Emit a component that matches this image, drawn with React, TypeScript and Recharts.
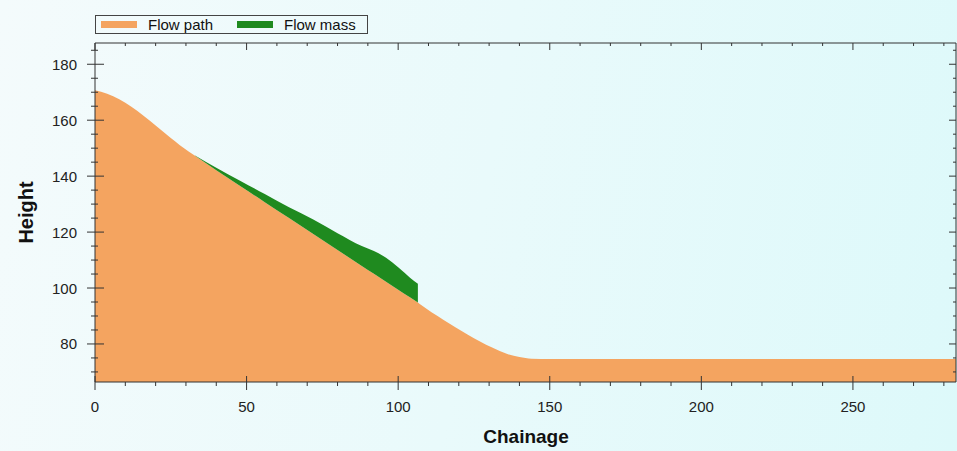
import React from "react";
import { ComposedChart, Area, XAxis, YAxis, ReferenceLine } from "recharts";

// profile and flow mass
const chainage = [
  0, 4, 8, 12, 16, 20, 25, 31, 33, 40, 48, 56, 64, 72, 80, 88, 92, 96, 100, 104,
  106.5, 107, 115, 123, 131, 136, 140, 144, 150, 284,
];
const groundHeight = [
  170.7, 169.5, 167.5, 164.8, 161.6, 158.1, 153.6, 148.7, 147.3, 142.1, 136.4,
  130.7, 125.0, 119.3, 113.6, 107.9, 105.1, 102.2, 99.4, 96.6, 94.8, 94.4, 88.6,
  83.3, 78.7, 76.4, 75.3, 74.7, 74.6, 74.6,
];
const massTop: (number | null)[] = [
  null, null, null, null, null, null, null, null, 147.4, 143.0, 138.3, 133.6,
  128.9, 124.5, 119.6, 115.0, 113.2, 110.8, 107.4, 103.6, 101.5, null, null,
  null, null, null, null, null, null, null,
];

const xTicks = [0, 10, 20, 30, 40, 50, 60, 70, 80, 90, 100, 110, 120, 130, 140, 150, 160, 170, 180, 190, 200, 210, 220, 230, 240, 250, 260, 270, 280];
const yTicks = [70, 75, 80, 85, 90, 95, 100, 105, 110, 115, 120, 125, 130, 135, 140, 145, 150, 155, 160, 165, 170, 175, 180, 185];
const xLabelEvery = 50;
const yLabelEvery = 20;
const xMax = 284;

const data = chainage.map((x, i) => ({
  x,
  ground: groundHeight[i],
  mass: massTop[i] == null ? null : [groundHeight[i], massTop[i]],
}));

const W = 957;
const H = 451;
const MARGIN = { top: 33, right: 1, bottom: 19, left: 35 };
const PLOT_RIGHT = W - MARGIN.right;

const FONT = '"Liberation Sans", Arial, sans-serif';
const AXIS = "#333";
const PATH_COLOR = "#f4a460";
const MASS_COLOR = "#1f8a1f";

const BottomTick = (props: any) => {
  const { x, y, payload } = props;
  const major = payload.value % xLabelEvery === 0;
  return (
    <g>
      <line x1={x} x2={x} y1={major ? y - 6 : y} y2={y + (major ? 8 : 4)} stroke={AXIS} />
      {major && (
        <text x={x} y={y + 30} textAnchor="middle" fontSize={15} fill="#222" fontFamily={FONT}>
          {payload.value}
        </text>
      )}
    </g>
  );
};

const TopTick = (props: any) => {
  const { x, y, payload } = props;
  const major = payload.value % xLabelEvery === 0;
  return <line x1={x} x2={x} y1={y} y2={y + (major ? 7 : 3)} stroke={AXIS} />;
};

// left ticks + labels, and the matching inward ticks on the right frame
const LeftTick = (props: any) => {
  const { x, y, payload } = props;
  const major = payload.value % yLabelEvery === 0;
  return (
    <g>
      <line x1={x - (major ? 8 : 4)} x2={x + (major ? 9 : 3)} y1={y} y2={y} stroke={AXIS} />
      <line x1={PLOT_RIGHT - (major ? 7 : 3)} x2={PLOT_RIGHT} y1={y} y2={y} stroke={AXIS} />
      {major && (
        <text x={x - 18} y={y + 5.5} textAnchor="end" fontSize={15} fill="#222" fontFamily={FONT}>
          {payload.value}
        </text>
      )}
    </g>
  );
};

const HeightLabel = () => (
  <text
    transform="translate(33,212.5) rotate(-90)"
    textAnchor="middle"
    fontSize={20}
    fontWeight="bold"
    fill="#111"
    fontFamily={FONT}
  >
    Height
  </text>
);

const ChainageLabel = () => (
  <text x={526} y={443} textAnchor="middle" fontSize={19} fontWeight="bold" fill="#111" fontFamily={FONT}>
    Chainage
  </text>
);

const App = () => {
  return (
    <div
      style={{
        position: "absolute",
        left: 0,
        top: 0,
        width: W,
        height: H,
        background: "linear-gradient(100deg, #f4fbfc 0%, #e9fafb 50%, #ddf9fa 100%)",
        fontFamily: FONT,
      }}
    >
      <ComposedChart width={W} height={H} data={data} margin={MARGIN}>
        <XAxis
          xAxisId="top"
          orientation="top"
          type="number"
          dataKey="x"
          domain={[0, xMax]}
          allowDataOverflow
          ticks={xTicks}
          interval={0}
          height={10}
          tickSize={0}
          tickMargin={0}
          tickLine={false}
          tick={<TopTick />}
          axisLine={{ stroke: AXIS }}
        />
        <XAxis
          xAxisId="main"
          type="number"
          dataKey="x"
          domain={[0, xMax]}
          allowDataOverflow
          ticks={xTicks}
          interval={0}
          height={50}
          tickSize={0}
          tickMargin={0}
          tickLine={false}
          tick={<BottomTick />}
          axisLine={{ stroke: AXIS }}
          label={<ChainageLabel />}
        />
        <YAxis
          yAxisId="main"
          type="number"
          domain={[66.4, 187.6]}
          allowDataOverflow
          ticks={yTicks}
          interval={0}
          width={60}
          tickSize={0}
          tickMargin={0}
          tickLine={false}
          tick={<LeftTick />}
          axisLine={{ stroke: AXIS }}
          label={<HeightLabel />}
        />
        <Area
          xAxisId="main"
          yAxisId="main"
          type="monotone"
          dataKey="ground"
          name="Flow path"
          fill={PATH_COLOR}
          fillOpacity={1}
          stroke="none"
          isAnimationActive={false}
        />
        <Area
          xAxisId="main"
          yAxisId="main"
          type="monotone"
          dataKey="mass"
          name="Flow mass"
          fill={MASS_COLOR}
          fillOpacity={1}
          stroke="none"
          isAnimationActive={false}
        />
        {/* right frame line */}
        <ReferenceLine xAxisId="main" yAxisId="main" x={xMax} stroke={AXIS} />
      </ComposedChart>

      {/* legend */}
      <div
        style={{
          position: "absolute",
          left: 95,
          top: 15,
          width: 273,
          height: 19,
          boxSizing: "border-box",
          border: "1px solid #444",
          fontSize: 15,
          color: "#111",
        }}
      >
        <div style={{ position: "absolute", left: 5, top: 5, width: 36, height: 7, background: PATH_COLOR }} />
        <div style={{ position: "absolute", left: 52, top: 0, lineHeight: "17px" }}>Flow path</div>
        <div style={{ position: "absolute", left: 141, top: 5, width: 36, height: 7, background: MASS_COLOR }} />
        <div style={{ position: "absolute", left: 188, top: 0, lineHeight: "17px" }}>Flow mass</div>
      </div>
    </div>
  );
};

export default App;
